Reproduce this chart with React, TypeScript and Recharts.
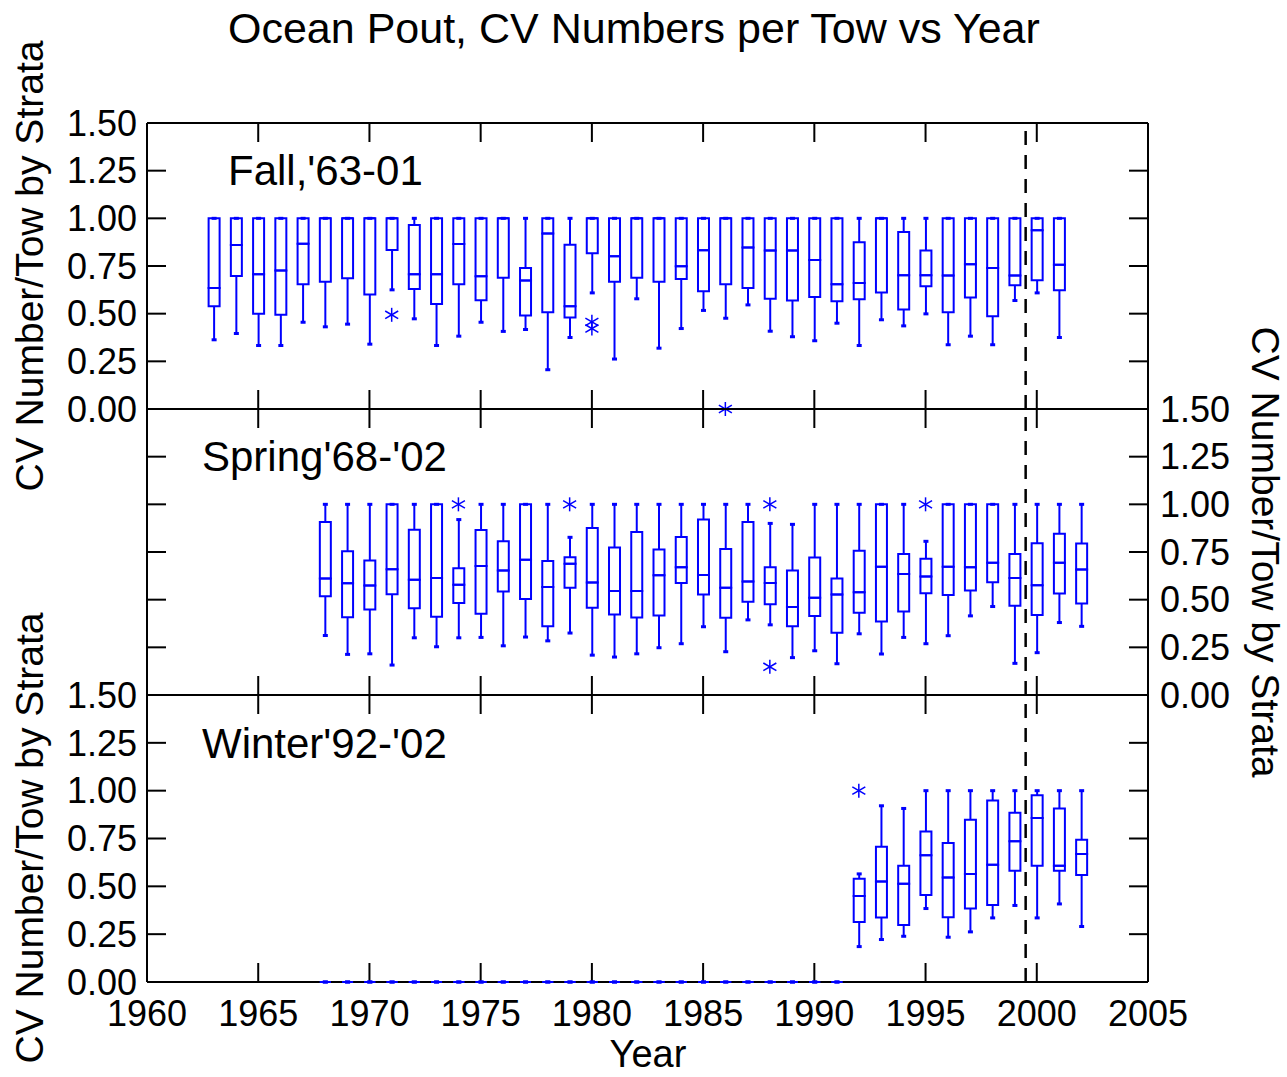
import React from "react";
import { ComposedChart, Bar, Scatter, XAxis, YAxis, ReferenceLine } from "recharts";

const BLUE = "#0000ff";
const FONT = "'Liberation Sans', Arial, sans-serif";

const yearTicks = [1960, 1965, 1970, 1975, 1980, 1985, 1990, 1995, 2000, 2005];
const cvTicks = [0, 0.25, 0.5, 0.75, 1, 1.25, 1.5];
const surveyChange = 1999.5;

// Fall '63-'01 : whisker low, Q1, median, Q3, whisker high
const fallYears = [
  1963, 1964, 1965, 1966, 1967, 1968, 1969, 1970, 1971, 1972, 1973, 1974, 1975,
  1976, 1977, 1978, 1979, 1980, 1981, 1982, 1983, 1984, 1985, 1986, 1987, 1988,
  1989, 1990, 1991, 1992, 1993, 1994, 1995, 1996, 1997, 1998, 1999, 2000, 2001,
];
const fallLow = [
  0.363, 0.396, 0.333, 0.333, 0.455, 0.431, 0.445, 0.34, 0.625, 0.473, 0.333, 0.382, 0.455,
  0.407, 0.417, 0.206, 0.375, 0.609, 0.262, 0.578, 0.319, 0.422, 0.517, 0.476, 0.546, 0.408,
  0.379, 0.358, 0.45, 0.333, 0.468, 0.436, 0.499, 0.337, 0.382, 0.337, 0.569, 0.609, 0.375,
];
const fallQ1 = [
  0.539, 0.698, 0.499, 0.494, 0.654, 0.667, 0.686, 0.6, 0.834, 0.63, 0.551, 0.654, 0.571,
  0.688, 0.49, 0.508, 0.48, 0.817, 0.667, 0.689, 0.668, 0.682, 0.618, 0.654, 0.634, 0.578,
  0.569, 0.588, 0.565, 0.576, 0.611, 0.522, 0.644, 0.508, 0.585, 0.487, 0.649, 0.675, 0.623,
];
const fallMed = [
  0.635, 0.86, 0.707, 0.726, 0.867, 1.0, 1.0, 1.0, 1.0, 0.707, 0.707, 0.865, 0.696,
  1.0, 0.674, 0.921, 0.539, 1.0, 0.801, 1.0, 1.0, 0.749, 0.832, 1.0, 0.847, 0.831,
  0.831, 0.782, 0.654, 0.661, 1.0, 0.702, 0.702, 0.7, 0.759, 0.74, 0.7, 0.937, 0.757,
];
const fallQ3 = [
  1.0, 1.0, 1.0, 1.0, 1.0, 1.0, 1.0, 1.0, 1.0, 0.965, 1.0, 1.0, 1.0,
  1.0, 0.74, 1.0, 0.862, 1.0, 1.0, 1.0, 1.0, 1.0, 1.0, 1.0, 1.0, 1.0,
  1.0, 1.0, 1.0, 0.874, 1.0, 0.928, 0.831, 1.0, 1.0, 1.0, 1.0, 1.0, 1.0,
];
const fallHigh = fallYears.map(() => 1.0);
const fallOutYears = [1971, 1980, 1980, 1986];
const fallOutValues = [0.494, 0.457, 0.422, 0.0];

// Spring '68-'02
const springYears = [
  1968, 1969, 1970, 1971, 1972, 1973, 1974, 1975, 1976, 1977, 1978, 1979, 1980,
  1981, 1982, 1983, 1984, 1985, 1986, 1987, 1988, 1989, 1990, 1991, 1992, 1993,
  1994, 1995, 1996, 1997, 1998, 1999, 2000, 2001, 2002,
];
const springLow = [
  0.312, 0.213, 0.216, 0.157, 0.3, 0.253, 0.3, 0.302, 0.258, 0.304, 0.284, 0.325, 0.209,
  0.199, 0.216, 0.248, 0.269, 0.358, 0.227, 0.394, 0.368, 0.196, 0.232, 0.164, 0.321, 0.215,
  0.302, 0.269, 0.311, 0.415, 0.464, 0.166, 0.222, 0.38, 0.36,
];
const springQ1 = [
  0.518, 0.408, 0.449, 0.529, 0.455, 0.41, 0.483, 0.426, 0.543, 0.503, 0.36, 0.562, 0.457,
  0.422, 0.407, 0.417, 0.588, 0.527, 0.405, 0.489, 0.476, 0.36, 0.414, 0.326, 0.431, 0.386,
  0.438, 0.534, 0.524, 0.548, 0.592, 0.468, 0.42, 0.532, 0.48,
];
const springMed = [
  0.611, 0.586, 0.574, 0.66, 0.605, 0.614, 0.578, 0.677, 0.653, 0.709, 0.567, 0.688, 0.59,
  0.546, 0.546, 0.628, 0.67, 0.63, 0.562, 0.595, 0.588, 0.462, 0.51, 0.527, 0.539, 0.672,
  0.635, 0.621, 0.672, 0.67, 0.693, 0.613, 0.576, 0.693, 0.658,
];
const springQ3 = [
  0.907, 0.754, 0.705, 1.0, 0.867, 1.0, 0.665, 0.866, 0.806, 1.0, 0.703, 0.723, 0.876,
  0.773, 0.855, 0.763, 0.829, 0.921, 0.766, 0.907, 0.67, 0.653, 0.721, 0.611, 0.756, 1.0,
  0.74, 0.714, 1.0, 1.0, 1.0, 0.74, 0.796, 0.846, 0.794,
];
const springHigh = [
  1.0, 1.0, 1.0, 1.0, 1.0, 1.0, 0.92, 1.0, 1.0, 1.0, 1.0, 0.827, 1.0,
  1.0, 1.0, 1.0, 1.0, 1.0, 1.0, 1.0, 0.9, 0.895, 1.0, 1.0, 1.0, 1.0,
  1.0, 0.806, 1.0, 1.0, 1.0, 1.0, 1.0, 1.0, 1.0,
];
const springOutYears = [1974, 1979, 1988, 1988, 1995];
const springOutValues = [1.0, 1.0, 1.0, 0.148, 1.0];

// Winter '92-'02 (earlier years plotted as empty boxes at zero)
const winterYears = [
  1968, 1969, 1970, 1971, 1972, 1973, 1974, 1975, 1976, 1977, 1978, 1979, 1980,
  1981, 1982, 1983, 1984, 1985, 1986, 1987, 1988, 1989, 1990, 1991,
  1992, 1993, 1994, 1995, 1996, 1997, 1998, 1999, 2000, 2001, 2002,
];
const winterLow = [
  0, 0, 0, 0, 0, 0, 0, 0, 0, 0, 0, 0, 0, 0, 0, 0, 0, 0, 0, 0, 0, 0, 0, 0,
  0.185, 0.222, 0.239, 0.384, 0.234, 0.262, 0.335, 0.4, 0.335, 0.408, 0.29,
];
const winterQ1 = [
  0, 0, 0, 0, 0, 0, 0, 0, 0, 0, 0, 0, 0, 0, 0, 0, 0, 0, 0, 0, 0, 0, 0, 0,
  0.314, 0.337, 0.298, 0.455, 0.339, 0.384, 0.403, 0.581, 0.607, 0.581, 0.559,
];
const winterMed = [
  0, 0, 0, 0, 0, 0, 0, 0, 0, 0, 0, 0, 0, 0, 0, 0, 0, 0, 0, 0, 0, 0, 0, 0,
  0.45, 0.525, 0.513, 0.663, 0.546, 0.564, 0.613, 0.735, 0.857, 0.607, 0.669,
];
const winterQ3 = [
  0, 0, 0, 0, 0, 0, 0, 0, 0, 0, 0, 0, 0, 0, 0, 0, 0, 0, 0, 0, 0, 0, 0, 0,
  0.539, 0.707, 0.607, 0.787, 0.726, 0.848, 0.949, 0.885, 0.976, 0.907, 0.743,
];
const winterHigh = [
  0, 0, 0, 0, 0, 0, 0, 0, 0, 0, 0, 0, 0, 0, 0, 0, 0, 0, 0, 0, 0, 0, 0, 0,
  0.565, 0.921, 0.907, 1.0, 1.0, 1.0, 1.0, 1.0, 1.0, 1.0, 1.0,
];
const winterOutYears = [1992];
const winterOutValues = [1.0];

// stacked segments: base -> low whisker -> lower box -> upper box -> high whisker
function boxRows(years: number[], lo: number[], q1: number[], med: number[], q3: number[], hi: number[]) {
  return years.map((year, i) => ({
    year,
    base: lo[i],
    lowWhisker: q1[i] - lo[i],
    lowBox: med[i] - q1[i],
    highBox: q3[i] - med[i],
    highWhisker: hi[i] - q3[i],
  }));
}

function outlierRows(years: number[], values: number[]) {
  return years.map((year, i) => ({ year, v: values[i] }));
}

const span = (p: any) => {
  const top = Math.min(p.y, p.y + p.height);
  const bottom = Math.max(p.y, p.y + p.height);
  return { cx: p.x + p.width / 2, top, bottom, left: p.x, right: p.x + p.width };
};

const Nothing = () => <g />;

const LowWhisker = (p: any) => {
  const { cx, top, bottom } = span(p);
  return (
    <g>
      <line x1={cx} x2={cx} y1={top} y2={bottom} stroke={BLUE} strokeWidth={2} />
      <rect x={cx - 2.5} y={bottom - 1.5} width={5} height={3} fill={BLUE} />
    </g>
  );
};

const HighWhisker = (p: any) => {
  const { cx, top, bottom } = span(p);
  return (
    <g>
      <line x1={cx} x2={cx} y1={top} y2={bottom} stroke={BLUE} strokeWidth={2} />
      <rect x={cx - 2.5} y={top - 1.5} width={5} height={3} fill={BLUE} />
    </g>
  );
};

const BoxPart = (p: any) => {
  const { top, bottom, left, right } = span(p);
  return (
    <path
      d={`M${left},${top}H${right}V${bottom}H${left}Z`}
      fill="none"
      stroke={BLUE}
      strokeWidth={2}
    />
  );
};

const Asterisk = (p: any) => {
  const { cx, cy } = p;
  if (cx == null || cy == null) return <g />;
  return (
    <g stroke={BLUE} strokeWidth={1.5}>
      <line x1={cx} x2={cx} y1={cy - 7} y2={cy + 7} />
      <line x1={cx - 6.5} x2={cx + 6.5} y1={cy - 3.8} y2={cy + 3.8} />
      <line x1={cx - 6.5} x2={cx + 6.5} y1={cy + 3.8} y2={cy - 3.8} />
    </g>
  );
};

const NoLabel = () => <g />;

const axisStroke = { stroke: "#000", strokeWidth: 2 };
const labelTick = { fill: "#000", fontSize: 36, fontFamily: FONT };
const fmt = (v: number) => v.toFixed(2);

interface PanelProps {
  top: number;
  height: number;
  margin: { top: number; right: number; bottom: number; left: number };
  rows: any[];
  outliers: any[];
  leftLabels?: boolean;
  rightLabels?: boolean;
  bottomLabels?: boolean;
}

function Panel({ top, height, margin, rows, outliers, leftLabels, rightLabels, bottomLabels }: PanelProps) {
  const barProps: any = { xAxisId: "b", yAxisId: "lm", stackId: "s", barSize: 11, isAnimationActive: false, zIndex: 700 };
  return (
    <div style={{ position: "absolute", left: 0, top }}>
      <ComposedChart width={1287} height={height} data={rows} margin={margin}>
        <XAxis
          xAxisId="b"
          dataKey="year"
          type="number"
          domain={[1960, 2005]}
          ticks={yearTicks}
          interval={0}
          orientation="bottom"
          mirror
          tick={NoLabel}
          tickSize={19}
          axisLine={axisStroke}
          tickLine={axisStroke}
        />
        <XAxis
          xAxisId="t"
          dataKey="year"
          type="number"
          domain={[1960, 2005]}
          allowDataOverflow
          ticks={yearTicks}
          interval={0}
          orientation="top"
          mirror
          tick={NoLabel}
          tickSize={19}
          axisLine={axisStroke}
          tickLine={axisStroke}
        />
        {bottomLabels && (
          <XAxis
            xAxisId="bl"
            dataKey="year"
            type="number"
            domain={[1960, 2005]}
            allowDataOverflow
            ticks={yearTicks}
            interval={0}
            orientation="bottom"
            height={95}
            axisLine={false}
            tickLine={false}
            tickSize={8}
            tickMargin={10}
            tick={labelTick}
          />
        )}
        <YAxis
          yAxisId="lm"
          type="number"
          domain={[0, 1.5]}
          ticks={cvTicks}
          interval={0}
          orientation="left"
          mirror
          tick={NoLabel}
          tickSize={19}
          axisLine={axisStroke}
          tickLine={axisStroke}
        />
        <YAxis
          yAxisId="rm"
          type="number"
          domain={[0, 1.5]}
          allowDataOverflow
          ticks={cvTicks}
          interval={0}
          orientation="right"
          mirror
          tick={NoLabel}
          tickSize={19}
          axisLine={axisStroke}
          tickLine={axisStroke}
        />
        {leftLabels && (
          <YAxis
            yAxisId="l"
            type="number"
            domain={[0, 1.5]}
            allowDataOverflow
            ticks={cvTicks}
            interval={0}
            orientation="left"
            width={147}
            axisLine={false}
            tickLine={false}
            tickSize={6}
            tickMargin={4}
            tickFormatter={fmt}
            tick={labelTick}
          />
        )}
        {rightLabels && (
          <YAxis
            yAxisId="r"
            type="number"
            domain={[0, 1.5]}
            allowDataOverflow
            ticks={cvTicks}
            interval={0}
            orientation="right"
            width={139}
            axisLine={false}
            tickLine={false}
            tickSize={6}
            tickMargin={6}
            tickFormatter={fmt}
            tick={labelTick}
          />
        )}
        <Bar {...barProps} dataKey="base" shape={Nothing} />
        <Bar {...barProps} dataKey="lowWhisker" shape={LowWhisker} />
        <Bar {...barProps} dataKey="lowBox" shape={BoxPart} />
        <Bar {...barProps} dataKey="highBox" shape={BoxPart} />
        <Bar {...barProps} dataKey="highWhisker" shape={HighWhisker} />
        <Scatter xAxisId="b" yAxisId="lm" data={outliers} dataKey="v" shape={Asterisk} isAnimationActive={false} />
        <ReferenceLine
          xAxisId="b"
          yAxisId="lm"
          x={surveyChange}
          stroke="#000"
          strokeWidth={2.5}
          strokeDasharray="14 10"
        />
      </ComposedChart>
    </div>
  );
}

export default function App() {
  const fallRows = boxRows(fallYears, fallLow, fallQ1, fallMed, fallQ3, fallHigh);
  const springRows = boxRows(springYears, springLow, springQ1, springMed, springQ3, springHigh);
  const winterRows = boxRows(winterYears, winterLow, winterQ1, winterMed, winterQ3, winterHigh);

  return (
    <div
      style={{
        position: "absolute",
        left: 0,
        top: 0,
        width: 1287,
        height: 1077,
        background: "#fff",
        fontFamily: FONT,
        overflow: "hidden",
      }}
    >
      <Panel
        top={0}
        height={440}
        margin={{ top: 123, right: 139, bottom: 31, left: 0 }}
        rows={fallRows}
        outliers={outlierRows(fallOutYears, fallOutValues)}
        leftLabels
      />
      <Panel
        top={380}
        height={340}
        margin={{ top: 29, right: 0, bottom: 25, left: 147 }}
        rows={springRows}
        outliers={outlierRows(springOutYears, springOutValues)}
        rightLabels
      />
      <Panel
        top={660}
        height={417}
        margin={{ top: 35, right: 139, bottom: 0, left: 0 }}
        rows={winterRows}
        outliers={outlierRows(winterOutYears, winterOutValues)}
        leftLabels
        bottomLabels
      />
      <svg
        width={1287}
        height={1077}
        style={{ position: "absolute", left: 0, top: 0, pointerEvents: "none" }}
        fontFamily={FONT}
        fill="#000"
      >
        <text x={228} y={43} fontSize={43}>Ocean Pout, CV Numbers per Tow vs Year</text>
        <text x={228} y={185} fontSize={42}>Fall,'63-01</text>
        <text x={202} y={471} fontSize={42}>Spring'68-'02</text>
        <text x={202} y={758} fontSize={42}>Winter'92-'02</text>
        <text transform="translate(43,266) rotate(-90)" textAnchor="middle" fontSize={39}>
          CV Number/Tow by Strata
        </text>
        <text transform="translate(1252,552) rotate(90)" textAnchor="middle" fontSize={39}>
          CV Number/Tow by Strata
        </text>
        <text transform="translate(43,838) rotate(-90)" textAnchor="middle" fontSize={39}>
          CV Number/Tow by Strata
        </text>
        <text x={648} y={1067} textAnchor="middle" fontSize={38}>Year</text>
      </svg>
    </div>
  );
}
